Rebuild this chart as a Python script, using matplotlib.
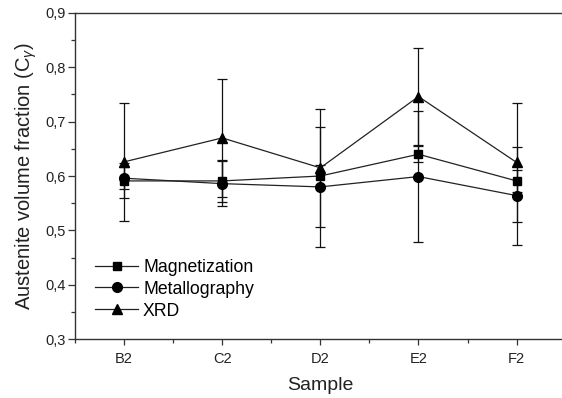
import matplotlib
matplotlib.use("Agg")
import matplotlib.pyplot as plt
from matplotlib.lines import Line2D
from matplotlib.ticker import FuncFormatter, MultipleLocator

plt.rcParams["font.family"] = ["Liberation Sans", "DejaVu Sans"]
plt.rcParams["mathtext.fontset"] = "custom"
plt.rcParams["mathtext.rm"] = "Liberation Sans"
plt.rcParams["mathtext.it"] = "Liberation Sans:italic"

samples = ["B2", "C2", "D2", "E2", "F2"]

magnetization = [0.591, 0.591, 0.600, 0.640, 0.591]
magnetization_err = [0.032, 0.038, 0.020, 0.015, 0.020]

metallography = [0.596, 0.586, 0.580, 0.599, 0.564]
metallography_err = [0.020, 0.042, 0.110, 0.120, 0.090]

xrd = [0.626, 0.670, 0.615, 0.746, 0.625]
xrd_err = [0.109, 0.109, 0.109, 0.089, 0.109]

xs = list(range(1, len(samples) + 1))

fig = plt.figure(figsize=(5.62, 3.98), dpi=100)
ax = fig.add_axes([0.1335, 0.1475, 0.873, 0.8205])

line_color = "#222222"
series = [
    ("Magnetization", magnetization, magnetization_err, "s", 5.5),
    ("Metallography", metallography, metallography_err, "o", 7),
    ("XRD", xrd, xrd_err, "^", 7.5),
]
handles = []
for label, ys, errs, marker, ms in series:
    ax.errorbar(xs, ys, yerr=errs, color=line_color, ecolor="#111111",
                elinewidth=0.9, capsize=3.3, capthick=0.9, linewidth=0.9,
                marker=marker, markersize=ms, markerfacecolor="black",
                markeredgecolor="black")
    handles.append(Line2D([], [], color=line_color, linewidth=0.9, marker=marker,
                          markersize=ms, markerfacecolor="black",
                          markeredgecolor="black", label=label))

ax.set_xlim(0.5, 5.5)
ax.set_ylim(0.3, 0.9)
ax.set_xticks(xs)
ax.set_xticklabels(samples)
ax.xaxis.set_minor_locator(MultipleLocator(0.5))
ax.yaxis.set_major_locator(MultipleLocator(0.1))
ax.yaxis.set_minor_locator(MultipleLocator(0.05))
ax.yaxis.set_major_formatter(FuncFormatter(lambda v, p: f"{v:.1f}".replace(".", ",")))

ax.tick_params(axis="y", which="major", direction="out", length=5, width=0.9,
               labelsize=10.5, color="#333333", labelcolor="#222222", pad=2)
ax.tick_params(axis="y", which="minor", direction="out", length=3, width=0.9, color="#333333")
ax.tick_params(axis="x", which="major", direction="out", length=4, width=0.9,
               labelsize=10.5, color="#333333", labelcolor="#222222", pad=5)
ax.tick_params(axis="x", which="minor", direction="out", length=3, width=0.9, color="#333333")

for side in ["left", "bottom", "top", "right"]:
    ax.spines[side].set_linewidth(1.0)
    ax.spines[side].set_color("#333333")

ax.set_xlabel("Sample", fontsize=14, color="#222222", labelpad=8)
ax.set_ylabel(r"Austenite volume fraction (C$_{\gamma}$)", fontsize=14.5,
              color="#222222", labelpad=4)

ax.legend(handles=handles, loc="lower left", bbox_to_anchor=(0.02, 0.028),
          frameon=False, fontsize=12.7, handlelength=2.4, handletextpad=0.3,
          labelspacing=0.28, borderaxespad=0.2)

fig.savefig("out.png", dpi=100)
